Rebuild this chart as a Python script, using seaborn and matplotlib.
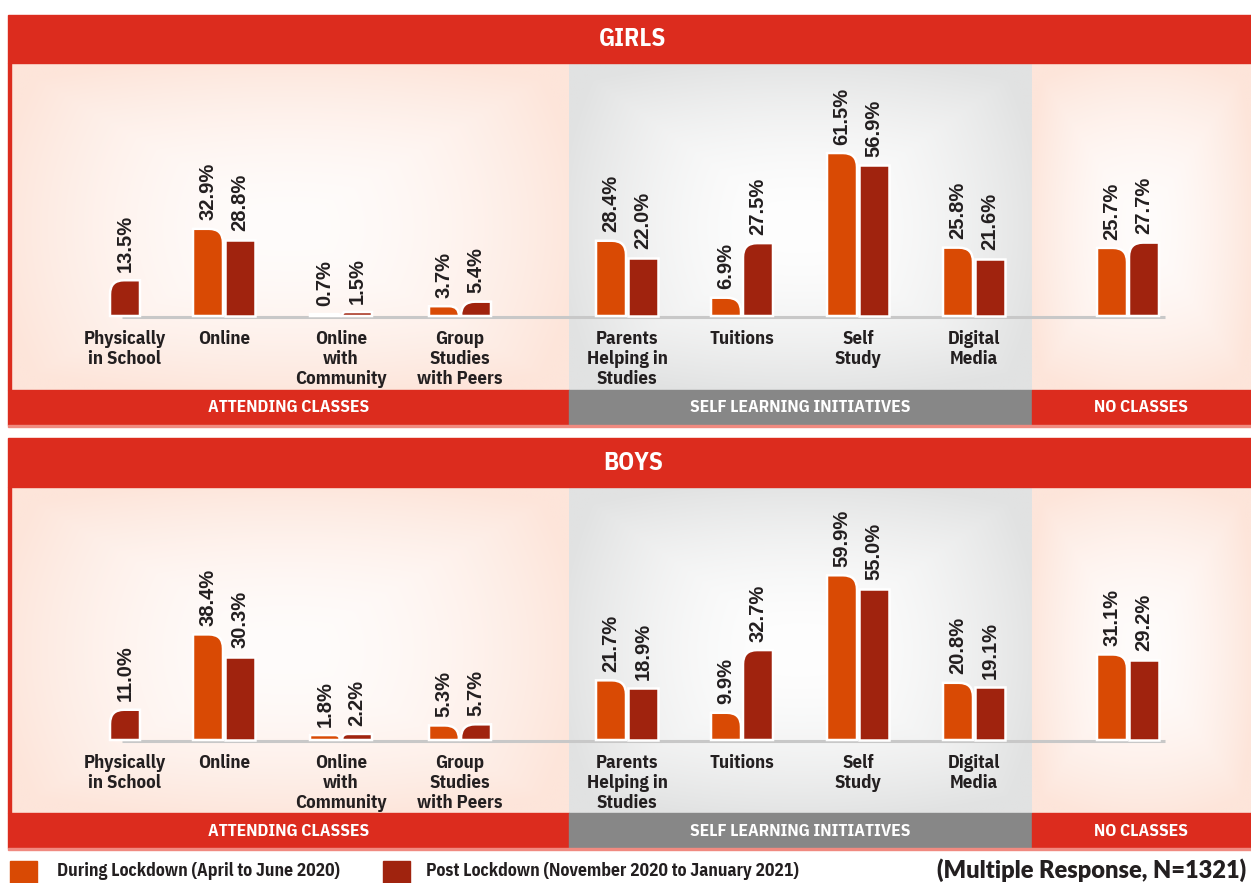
import matplotlib.pyplot as plt
import matplotlib.colors as mcolors
import numpy as np
import pandas as pd
import seaborn as sns
from matplotlib.patches import Rectangle, PathPatch
from matplotlib.path import Path

# ---- data ----
categories = ["Physically\nin School", "Online", "Online\nwith\nCommunity",
              "Group\nStudies\nwith Peers", "Parents\nHelping in\nStudies",
              "Tuitions", "Self\nStudy", "Digital\nMedia", ""]
girls_during = [None, 32.9, 0.7, 3.7, 28.4, 6.9, 61.5, 25.8, 25.7]
girls_post = [13.5, 28.8, 1.5, 5.4, 22.0, 27.5, 56.9, 21.6, 27.7]
boys_during = [None, 38.4, 1.8, 5.3, 21.7, 9.9, 59.9, 20.8, 31.1]
boys_post = [11.0, 30.3, 2.2, 5.7, 18.9, 32.7, 55.0, 19.1, 29.2]
series_names = ["During Lockdown (April to June 2020)",
                "Post Lockdown (November 2020 to January 2021)"]
section_names = ["ATTENDING CLASSES", "SELF LEARNING INITIATIVES", "NO CLASSES"]
panel_titles = ["GIRLS", "BOYS"]
note_text = "(Multiple Response, N=1321)"

# ---- layout (pixels) ----
W, H = 1251, 883
group_x = [125, 224, 341, 460, 627, 742, 858, 974, 1128]
half_gap = 16
section_x = [8, 569, 1032, W]

RED = "#dc2c1e"
GREY_BAND = "#878787"
ORANGE = "#d94a04"
DARK = "#a0230e"
INK = "#231f20"

sns.set_theme(style="white")
NARROW = ["IBM Plex Sans Condensed", "DejaVu Sans"]
plt.rcParams["font.family"] = NARROW

fig = plt.figure(figsize=(W / 100, H / 100), dpi=100)
canvas = fig.add_axes([0, 0, 1, 1])
canvas.axis("off")


def gradient(x0, x1, y0, y1, inner, outer):
    gx = np.linspace(-1, 1, 300)
    gy = np.linspace(-1, 1, 200)
    X, Y = np.meshgrid(gx, gy)
    d = np.clip(np.maximum(np.abs(X), np.abs(Y)) * 0.6 + np.hypot(X, Y) * 0.35, 0, 1)
    a = np.array(mcolors.to_rgb(inner))
    b = np.array(mcolors.to_rgb(outer))
    img = a + (b - a) * (d[..., None] ** 1.8)
    canvas.imshow(img, extent=[x0, x1, y1, y0], aspect="auto", zorder=0,
                  interpolation="bilinear")


def rounded_bar(ax, p, side, scale):
    x0 = p.get_x()
    w = p.get_width()
    h = p.get_height()
    x1 = x0 + w
    r = min(14, h * scale)
    rx, ry = r, r / scale
    if side == "right":
        verts = [(x0, 0), (x0, h), (x1 - rx, h), (x1, h), (x1, h - ry), (x1, 0), (x0, 0)]
    else:
        verts = [(x1, 0), (x1, h), (x0 + rx, h), (x0, h), (x0, h - ry), (x0, 0), (x1, 0)]
    codes = [Path.MOVETO, Path.LINETO, Path.LINETO, Path.CURVE3, Path.CURVE3,
             Path.LINETO, Path.CLOSEPOLY]
    ax.add_patch(PathPatch(Path(verts, codes), facecolor=p.get_facecolor(),
                           edgecolor="white", lw=1.8, zorder=3))
    p.set_visible(False)


panels = [
    dict(title=panel_titles[0], during=girls_during, post=girls_post,
         head=15, top=63, base=316, bottom=390, scale=2.65),
    dict(title=panel_titles[1], during=boys_during, post=boys_post,
         head=438, top=487, base=740, bottom=813, scale=2.75),
]

for pnl in panels:
    top, bottom, base, s = pnl["top"], pnl["bottom"], pnl["base"], pnl["scale"]

    # backgrounds and bands
    gradient(section_x[0], section_x[1], top, bottom, "#fffcfb", "#fde5da")
    gradient(section_x[1], section_x[2], top, bottom, "#fefefe", "#e1e2e2")
    gradient(section_x[2], section_x[3], top, bottom, "#fffcfb", "#fde5da")
    canvas.add_patch(Rectangle((8, pnl["head"]), W - 8, top - pnl["head"], color=RED, zorder=1))
    canvas.text(633, (pnl["head"] + top) / 2, pnl["title"], color="white", fontsize=18,
                fontweight="bold", ha="center", va="center", zorder=2)
    canvas.add_patch(Rectangle((8, top), 2.5, bottom - top, color=RED, zorder=1))
    band_colors = [RED, GREY_BAND, RED]
    for k, name in enumerate(section_names):
        canvas.add_patch(Rectangle((section_x[k], bottom), section_x[k + 1] - section_x[k], 35,
                                   color=band_colors[k], zorder=1))
        canvas.text((section_x[k] + section_x[k + 1]) / 2, bottom + 18, name, color="white",
                    fontsize=12.5, fontweight="bold", ha="center", va="center", zorder=2)
    canvas.add_patch(Rectangle((8, bottom + 35), W - 8, 2, color="#f08a80", zorder=1))

    # category labels
    for gx, cat in zip(group_x, categories):
        canvas.text(gx, base + 14, cat, color=INK, fontsize=13.5, fontweight="bold",
                    ha="center", va="top", linespacing=1.13, zorder=2)

    # bars
    rows = []
    for i, gx in enumerate(group_x):
        d, p = pnl["during"][i], pnl["post"][i]
        if d is not None:
            rows.append(dict(pos=gx - half_gap, value=d, series=series_names[0]))
            rows.append(dict(pos=gx + half_gap, value=p, series=series_names[1]))
        else:
            rows.append(dict(pos=gx, value=p, series=series_names[1]))
    df = pd.DataFrame(rows)

    ax = fig.add_axes([0, 1 - bottom / H, 1, (bottom - top) / H])
    ax.patch.set_alpha(0)
    ax.plot([122, 1165], [-0.35, -0.35], color="#c8c8c8", lw=2.2, zorder=1,
            solid_capstyle="butt")
    sns.barplot(data=df, x="pos", y="value", hue="series", hue_order=series_names,
                palette=[ORANGE, DARK], native_scale=True, dodge=False, width=30 / 32,
                errorbar=None, legend=False, saturation=1, edgecolor="white",
                linewidth=1.8, ax=ax)

    bars = [b for b in ax.patches if isinstance(b, Rectangle)]
    for b in bars:
        xc = b.get_x() + b.get_width() / 2
        is_during = mcolors.same_color(b.get_facecolor(), ORANGE)
        i = int(np.argmin([abs(xc - g) for g in group_x]))
        d, p = pnl["during"][i], pnl["post"][i]
        if is_during:
            rounded_bar(ax, b, "right", s)
        elif d is None or p > d:
            rounded_bar(ax, b, "left", s)

    for r in rows:
        ax.annotate(f"{r['value']:.1f}%", (r["pos"], r["value"]), xytext=(0, 6),
                    textcoords="offset points", rotation=90, ha="center", va="bottom",
                    fontsize=14.5, fontweight="bold", color=INK,
                    family=["Liberation Sans", "DejaVu Sans"], zorder=4)

    ax.set_xlim(0, W)
    ax.set_ylim(-(bottom - base) / s, (base - top) / s)
    ax.axis("off")

# legend and note
canvas.add_patch(Rectangle((10, 861), 27, 22, color=ORANGE, zorder=1))
canvas.text(57, 871, series_names[0], color=INK, fontsize=12.7, fontweight="bold",
            ha="left", va="center")
canvas.add_patch(Rectangle((383, 861), 27, 22, color=DARK, zorder=1))
canvas.text(426, 871, series_names[1], color=INK, fontsize=12.7, fontweight="bold",
            ha="left", va="center")
canvas.text(937, 870, note_text, color=INK, fontsize=17, fontweight="heavy",
            family=["Lato", "DejaVu Sans"], ha="left", va="center")

canvas.set_xlim(0, W)
canvas.set_ylim(H, 0)

fig.savefig("out.png", dpi=100, facecolor="white")
